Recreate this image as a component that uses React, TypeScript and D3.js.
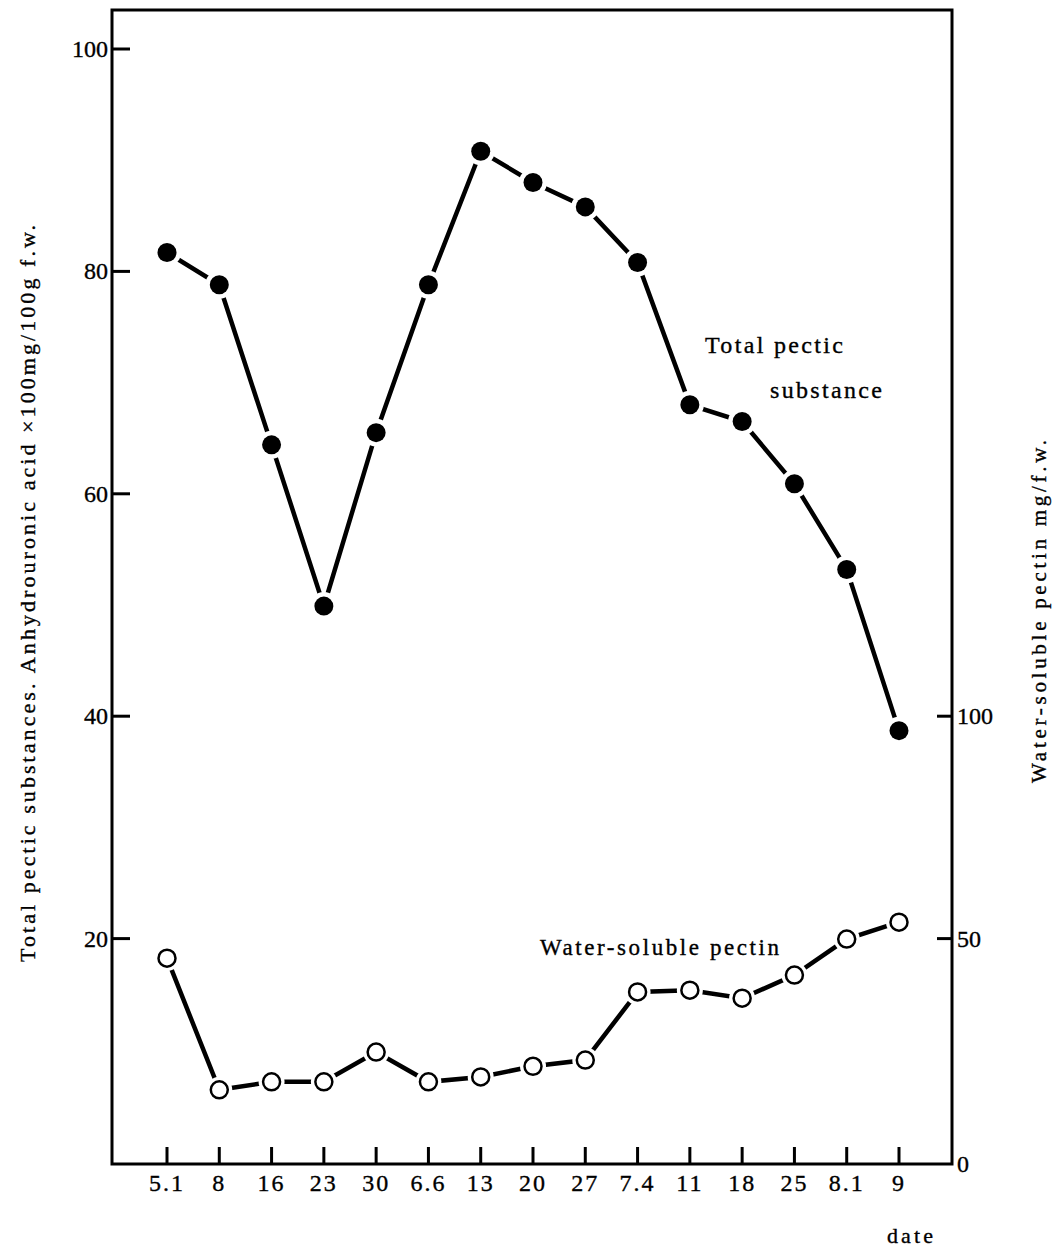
import React from "react";
import * as d3 from "d3";

const dates = ["5.1", "8", "16", "23", "30", "6.6", "13", "20", "27", "7.4", "11", "18", "25", "8.1", "9"];
const totalPectic = [81.7, 78.8, 64.4, 49.9, 65.5, 78.8, 90.8, 88.0, 85.8, 80.8, 68.0, 66.5, 60.9, 53.2, 38.7];
const waterSoluble = [45.6, 16.0, 17.8, 17.8, 24.5, 17.8, 18.9, 21.3, 22.7, 38.0, 38.4, 36.6, 41.8, 49.9, 53.7];
const leftTicks = [20, 40, 60, 80, 100];
const rightTicks = [50, 100];

const FONT = "'Liberation Serif', 'Times New Roman', 'DejaVu Serif', serif";
const txt = { fontFamily: FONT, fill: "#000", stroke: "#000", strokeWidth: 0.35 } as React.CSSProperties;

export default function App() {
  const W = 1053;
  const H = 1248;
  const frame = { left: 112, right: 952, top: 10, bottom: 1164 };

  const x = d3.scalePoint<string>().domain(dates).range([167, 899]);
  const yL = d3.scaleLinear().domain([0, 100]).range([1161, 49]);
  const yR = d3.scaleLinear().domain([0, 250]).range([1161, 49]);

  const lineL = d3
    .line<number>()
    .x((_, i) => x(dates[i]) as number)
    .y((d) => yL(d));
  const lineR = d3
    .line<number>()
    .x((_, i) => x(dates[i]) as number)
    .y((d) => yR(d));

  return (
    <svg width={W} height={H} style={{ display: "block", position: "absolute", left: 0, top: 0, background: "#fff" }}>
      <rect x={0} y={0} width={W} height={H} fill="#fff" />
      {/* frame */}
      <rect
        x={frame.left}
        y={frame.top}
        width={frame.right - frame.left}
        height={frame.bottom - frame.top}
        fill="none"
        stroke="#000"
        strokeWidth={3}
      />
      {/* left ticks */}
      {leftTicks.map((t) => (
        <g key={"l" + t}>
          <line x1={frame.left} x2={frame.left + 18} y1={yL(t)} y2={yL(t)} stroke="#000" strokeWidth={3} />
          <text x={frame.left - 4} y={yL(t) + 8} textAnchor="end" style={{ ...txt, fontSize: 24 }}>
            {t}
          </text>
        </g>
      ))}
      {/* right ticks */}
      {rightTicks.map((t) => (
        <g key={"r" + t}>
          <line x1={frame.right - 15} x2={frame.right} y1={yR(t)} y2={yR(t)} stroke="#000" strokeWidth={3} />
          <text x={frame.right + 5} y={yR(t) + 8} textAnchor="start" style={{ ...txt, fontSize: 24 }}>
            {t}
          </text>
        </g>
      ))}
      <text x={frame.right + 5} y={frame.bottom + 8} textAnchor="start" style={{ ...txt, fontSize: 24 }}>
        0
      </text>
      {/* bottom ticks */}
      {dates.map((d) => (
        <g key={"b" + d}>
          <line x1={x(d)} x2={x(d)} y1={frame.bottom} y2={frame.bottom - 17} stroke="#000" strokeWidth={3} />
          <text x={x(d)} y={1191} textAnchor="middle" style={{ ...txt, fontSize: 24, letterSpacing: 2 }}>
            {d}
          </text>
        </g>
      ))}
      <text x={887} y={1243} textLength={46} lengthAdjust="spacing" style={{ ...txt, fontSize: 22 }}>
        date
      </text>

      {/* axis titles */}
      <text
        transform={`translate(35, 962) rotate(-90)`}
        textLength={737}
        lengthAdjust="spacing"
        style={{ ...txt, fontSize: 22 }}
      >
        Total pectic substances. Anhydrouronic acid ×100mg/100g f.w.
      </text>
      <text
        transform={`translate(1046, 783) rotate(-90)`}
        textLength={343}
        lengthAdjust="spacing"
        style={{ ...txt, fontSize: 21 }}
      >
        Water-soluble pectin mg/f.w.
      </text>

      {/* annotations */}
      <text x={705} y={353} textLength={138} lengthAdjust="spacing" style={{ ...txt, fontSize: 24 }}>
        Total pectic
      </text>
      <text x={770} y={398} textLength={112} lengthAdjust="spacing" style={{ ...txt, fontSize: 24 }}>
        substance
      </text>
      <text x={540} y={955} textLength={239} lengthAdjust="spacing" style={{ ...txt, fontSize: 23 }}>
        Water-soluble pectin
      </text>

      {/* series lines */}
      <path d={lineL(totalPectic) || ""} fill="none" stroke="#000" strokeWidth={4.5} />
      <path d={lineR(waterSoluble) || ""} fill="none" stroke="#000" strokeWidth={4.5} />

      {/* markers with white halo (gap) */}
      {totalPectic.map((v, i) => (
        <g key={"tp" + i}>
          <circle cx={x(dates[i])} cy={yL(v)} r={14} fill="#fff" />
          <circle cx={x(dates[i])} cy={yL(v)} r={9.5} fill="#000" />
        </g>
      ))}
      {waterSoluble.map((v, i) => (
        <g key={"ws" + i}>
          <circle cx={x(dates[i])} cy={yR(v)} r={13} fill="#fff" />
          <circle cx={x(dates[i])} cy={yR(v)} r={8.5} fill="#fff" stroke="#000" strokeWidth={2.5} />
        </g>
      ))}
    </svg>
  );
}
